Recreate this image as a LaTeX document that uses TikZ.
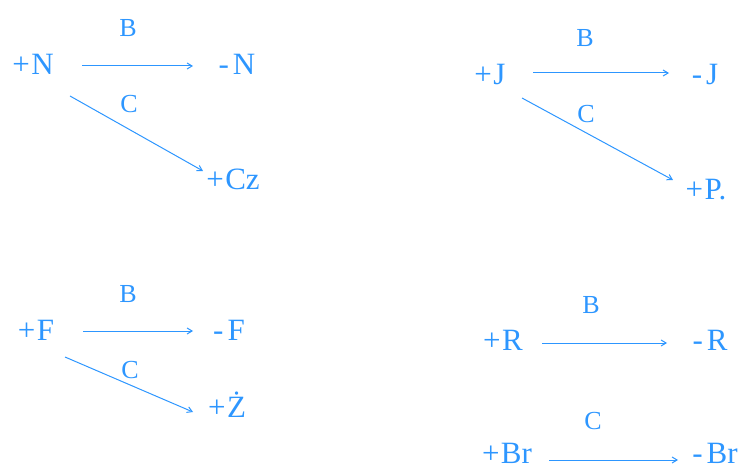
\documentclass[tikz,border=0pt]{standalone}
\usepackage{fontspec}
\setmainfont{Liberation Serif}
\usetikzlibrary{arrows.meta}
\definecolor{ink}{RGB}{45,150,255}
\newcommand{\pl}{+\kern1.5pt}
\newcommand{\mi}{-\kern4pt}
\tikzset{
  term/.style={text=ink, font=\fontsize{31}{31}\selectfont, inner sep=0pt, anchor=base},
  lab/.style={text=ink, font=\fontsize{26}{26}\selectfont, inner sep=0pt, anchor=base},
  arr/.style={draw=ink, line width=1pt, -{Straight Barb[length=5pt,width=6pt]}}
}
\begin{document}
\begin{tikzpicture}[x=1pt,y=-1pt]
\useasboundingbox (0,0) rectangle (741,470);
% top-left
\node[term] (pN) at (33,75) {\pl N};
\node[term] (mN) at (237,75) {\mi N};
\node[term] (pCz) at (233,190) {\pl Cz};
\node[lab] (lB1) at (128,37) {B};
\node[lab] (lC1) at (129,113) {C};
\draw[arr] ([shift={(49,-9)}]pN.base) -- ([shift={(-44,-9)}]mN.base);
\draw[arr] ([shift={(37,21)}]pN.base) -- ([shift={(-30,-19)}]pCz.base);
% top-right
\node[term] (pJ) at (490,85) {\pl J};
\node[term] (mJ) at (705,85) {\mi J};
\node[term] (pP) at (706,200) {\pl P.};
\node[lab] (lB2) at (585,47) {B};
\node[lab] (lC2) at (586,123) {C};
\draw[arr] ([shift={(43,-12)}]pJ.base) -- ([shift={(-36,-12)}]mJ.base);
\draw[arr] ([shift={(32,13)}]pJ.base) -- ([shift={(-33,-20)}]pP.base);
% bottom-left
\node[term] (pF) at (36,340) {\pl F};
\node[term] (mF) at (229,340) {\mi F};
\node[term] (pZ) at (227,417) {\pl Ż};
\node[lab] (lB3) at (128,302) {B};
\node[lab] (lC3) at (130,378) {C};
\draw[arr] ([shift={(47,-9)}]pF.base) -- ([shift={(-36,-9)}]mF.base);
\draw[arr] ([shift={(29,17)}]pF.base) -- ([shift={(-34,-5)}]pZ.base);
% bottom-right
\node[term] (pR) at (503,350) {\pl R};
\node[term] (mR) at (710,350) {\mi R};
\node[lab] (lB4) at (591,313) {B};
\draw[arr] ([shift={(39,-7)}]pR.base) -- ([shift={(-43,-7)}]mR.base);
\node[term] (pBr) at (507,463) {\pl Br};
\node[term] (mBr) at (715,463) {\mi Br};
\node[lab] (lC4) at (593,429) {C};
\draw[arr] ([shift={(42,-3)}]pBr.base) -- ([shift={(-37,-3)}]mBr.base);
\end{tikzpicture}
\end{document}
